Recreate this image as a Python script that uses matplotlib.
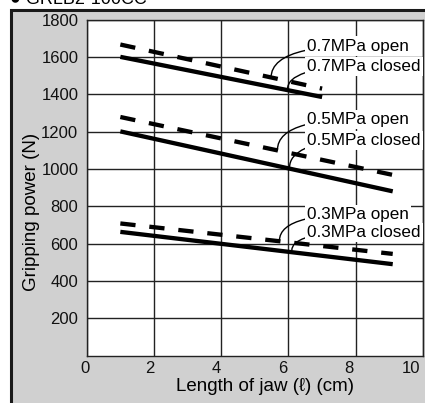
#!/usr/bin/env python3
"""Gripping power vs. jaw length for three supply pressures."""

import matplotlib

matplotlib.use("Agg")
import matplotlib.pyplot as plt
import matplotlib.transforms as mtransforms
from matplotlib.patches import Rectangle

FONT = ["Liberation Sans", "DejaVu Sans"]
plt.rcParams["font.family"] = FONT

# jaw length (cm) at the start and end of each line
x_short = [1.0, 7.0]
x_long = [1.0, 9.1]

# gripping power (N) at those ends
p07_closed = [1600, 1385]
p07_open = [1666, 1430]
p05_closed = [1201, 880]
p05_open = [1278, 968]
p03_closed = [663, 490]
p03_open = [708, 545]

# label text position (x, y) and where its leader touches the line
labels = [
    ("0.7MPa open", (6.56, 1658), (5.48, 1487)),
    ("0.7MPa closed", (6.56, 1548), (5.97, 1425)),
    ("0.5MPa open", (6.56, 1264), (5.67, 1100)),
    ("0.5MPa closed", (6.56, 1153), (6.03, 1005)),
    ("0.3MPa open", (6.56, 757), (5.73, 615)),
    ("0.3MPa closed", (6.56, 662), (6.10, 565)),
]

x_ticks = [0, 2, 4, 6, 8, 10]
y_ticks = [200, 400, 600, 800, 1000, 1200, 1400, 1600, 1800]

fig = plt.figure(figsize=(4.25, 4.03), dpi=100)
fig.patch.set_facecolor("white")

# grey panel behind the chart
fig.patches.append(
    Rectangle(
        (11 / 425, -0.1), 1.1, 1.1 - 10 / 403 + 0.001,
        transform=fig.transFigure, facecolor="#d0d0d0",
        edgecolor="#1a1a1a", linewidth=2.2, zorder=-5,
    )
)
fig.text(10 / 425, 1 - 3.5 / 403, "\u25cf GRLB2-100CC", fontsize=13,
         ha="left", va="baseline", family=FONT)

ax = fig.add_axes([86.7 / 425, 1 - 355.7 / 403, 336.3 / 425, 336.2 / 403])
ax.set_zorder(1)
ax.set_facecolor("white")
ax.set_xlim(0, 10)
ax.set_ylim(0, 1800)
ax.set_xticks(x_ticks)
ax.set_yticks(y_ticks)
ax.tick_params(length=0, labelsize=12, pad=6, colors="#111111")
ax.tick_params(axis="x", pad=4)
ax.grid(True, color="#222222", linewidth=1.0)
ax.set_axisbelow(True)
for sp in ax.spines.values():
    sp.set_linewidth(1.0)
    sp.set_color("#222222")

# nudge x tick labels left so "10" stays inside the picture
for lab, dx in zip(ax.get_xticklabels(), [-1.5, -4, -5, -6, -7, -12]):
    lab.set_transform(lab.get_transform() + mtransforms.ScaledTranslation(dx / 100, 0, fig.dpi_scale_trans))

lw = 3.1
dash = (11 / lw, 10 / lw)
for xs, closed, opened in [
    (x_short, p07_closed, p07_open),
    (x_long, p05_closed, p05_open),
    (x_long, p03_closed, p03_open),
]:
    ax.plot(xs, closed, color="black", linewidth=lw, solid_capstyle="butt", zorder=3)
    ax.plot(xs, opened, color="black", linewidth=lw, dashes=dash,
            dash_capstyle="butt", zorder=3)

for text, xytext, xy in labels:
    ax.annotate(
        text, xy=xy, xytext=xytext, fontsize=12.3, ha="left", va="center",
        bbox=dict(boxstyle="square,pad=0.12", facecolor="white", edgecolor="none"),
        arrowprops=dict(arrowstyle="-", color="black", linewidth=1.0,
                        shrinkA=0, shrinkB=0,
                        connectionstyle="angle3,angleA=0,angleB=90"),
        zorder=5,
    )

ax.set_xlabel("Length of jaw (\u2113) (cm)", fontsize=13.5)
ax.set_ylabel("Gripping power (N)", fontsize=13.5)
ax.xaxis.set_label_coords(0.53, -0.066)
ax.yaxis.set_label_coords(-0.14, 0.427)

fig.savefig("out.png", dpi=100)
